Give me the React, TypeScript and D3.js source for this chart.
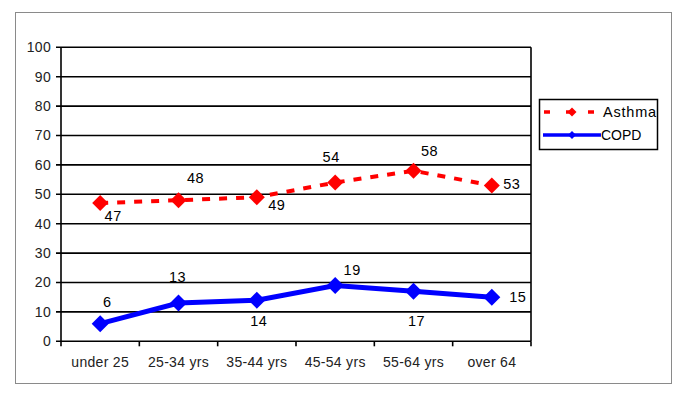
import React, { useEffect } from "react";
import * as d3 from "d3";

const categories = ["under 25", "25-34 yrs", "35-44 yrs", "45-54 yrs", "55-64 yrs", "over 64"];
const asthma = [47, 48, 49, 54, 58, 53];
const copd = [6, 13, 14, 19, 17, 15];
const yTicks = [0, 10, 20, 30, 40, 50, 60, 70, 80, 90, 100];

// label offsets (style) relative to the point
const asthmaLabelOffset: [number, number][] = [[13, 13], [17, -22], [20, 8], [-4, -26], [16, -20], [20, -2]];
const copdLabelOffset: [number, number][] = [[7, -22], [-1, -26], [2, 21], [17, -16], [3, 30], [26, 0]];

const W = 685, H = 401;
const left = 61, right = 531, top = 47.3, bottom = 341.3;

export default function App() {
  useEffect(() => {
    document.body.style.margin = "0";
  }, []);
  const x = d3.scaleBand<string>().domain(categories).range([left, right]);
  const y = d3.scaleLinear().domain([0, 100]).range([bottom, top]);
  const cx = (i: number) => (x(categories[i]) as number) + x.bandwidth() / 2;
  const line = d3.line<number>().x((_, i) => cx(i)).y((d) => y(d));
  const font = "Arial, 'Liberation Sans', sans-serif";
  const diamond = (px: number, py: number, r: number) =>
    `M${px},${py - r}L${px + r},${py}L${px},${py + r}L${px - r},${py}Z`;
  const boundaries = categories.map((c) => x(c) as number).concat([right]);

  return (
    <svg width={W} height={H} style={{ display: "block", background: "#fff" }} fontFamily={font}>
      <rect x={15.5} y={12.5} width={656} height={371} fill="#fff" stroke="#8a8a8a" strokeWidth={1} />
      {yTicks.map((t) => (
        <g key={t}>
          <line x1={56} x2={right} y1={y(t)} y2={y(t)} stroke="#000" strokeWidth={t === 0 ? 1.5 : 1.6} />
          <text x={51} y={y(t)} dy="0.35em" textAnchor="end" fontSize={14} letterSpacing={0.3} fill="#222">{t}</text>
        </g>
      ))}
      <line x1={left} x2={left} y1={top} y2={bottom} stroke="#000" strokeWidth={1.6} />
      <line x1={right} x2={right} y1={top} y2={bottom} stroke="#000" strokeWidth={1.6} />
      {boundaries.map((b, i) => (
        <line key={i} x1={b} x2={b} y1={bottom} y2={bottom + 5} stroke="#000" strokeWidth={1.6} />
      ))}
      {categories.map((c, i) => (
        <text key={c} x={cx(i)} y={362} dy="0.35em" textAnchor="middle" fontSize={14} letterSpacing={0.3} fill="#222">{c}</text>
      ))}

      <path d={line(asthma) as string} fill="none" stroke="#ff0000" strokeWidth={4} strokeDasharray="8 9" />
      {asthma.map((v, i) => (
        <path key={i} d={diamond(cx(i), y(v), 8)} fill="#ff0000" />
      ))}
      {asthma.map((v, i) => (
        <text key={i} x={cx(i) + asthmaLabelOffset[i][0]} y={y(v) + asthmaLabelOffset[i][1]} dy="0.35em"
          textAnchor="middle" fontSize={14.5} letterSpacing={0.5} fill="#000">{v}</text>
      ))}

      <path d={line(copd) as string} fill="none" stroke="#0000ff" strokeWidth={5} />
      {copd.map((v, i) => (
        <path key={i} d={diamond(cx(i), y(v), 8.5)} fill="#0000ff" />
      ))}
      {copd.map((v, i) => (
        <text key={i} x={cx(i) + copdLabelOffset[i][0]} y={y(v) + copdLabelOffset[i][1]} dy="0.35em"
          textAnchor="middle" fontSize={14.5} letterSpacing={0.5} fill="#000">{v}</text>
      ))}

      <rect x={539.5} y={99.5} width={118} height={50} fill="#fff" stroke="#000" strokeWidth={1.5} />
      <line x1={544} x2={601} y1={112} y2={112} stroke="#ff0000" strokeWidth={3.5} strokeDasharray="6 16" strokeDashoffset={0} />
      <path d={diamond(572, 112, 4.5)} fill="#ff0000" />
      <text x={603} y={112} dy="0.35em" fontSize={14.5} letterSpacing={0.8} fill="#000">Asthma</text>
      <line x1={543} x2={601} y1={135} y2={135} stroke="#0000ff" strokeWidth={3.5} />
      <path d={diamond(572, 135, 4)} fill="#0000ff" />
      <text x={601} y={135} dy="0.35em" fontSize={14} fill="#000">COPD</text>
    </svg>
  );
}
